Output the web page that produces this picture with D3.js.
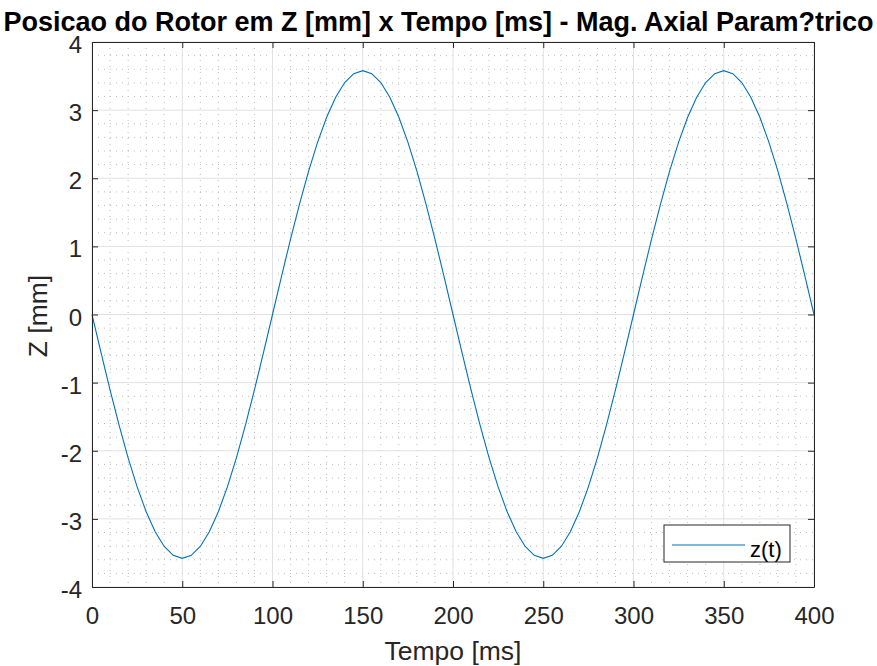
<!DOCTYPE html>
<html>
<head>
<meta charset="utf-8">
<script src="https://cdn.jsdelivr.net/npm/d3@7"></script>
<style>
  html, body { margin: 0; padding: 0; background: #fff; }
  svg { display: block; font-family: "Liberation Sans", Arial, Helvetica, sans-serif; }
</style>
</head>
<body>
<svg id="chart" width="877" height="666"></svg>
<script>
// Rotor axial position sampled every 5 ms
const timeMs = [
  0, 5, 10, 15, 20, 25, 30, 35, 40, 45,
  50, 55, 60, 65, 70, 75, 80, 85, 90, 95,
  100, 105, 110, 115, 120, 125, 130, 135, 140, 145,
  150, 155, 160, 165, 170, 175, 180, 185, 190, 195,
  200, 205, 210, 215, 220, 225, 230, 235, 240, 245,
  250, 255, 260, 265, 270, 275, 280, 285, 290, 295,
  300, 305, 310, 315, 320, 325, 330, 335, 340, 345,
  350, 355, 360, 365, 370, 375, 380, 385, 390, 395,
  400
];
const zMm = [
  0, -0.56, -1.106, -1.625, -2.104, -2.531, -2.896, -3.19, -3.405, -3.536,
  -3.58, -3.536, -3.405, -3.19, -2.896, -2.531, -2.104, -1.625, -1.106, -0.56,
  0, 0.56, 1.106, 1.625, 2.104, 2.531, 2.896, 3.19, 3.405, 3.536,
  3.58, 3.536, 3.405, 3.19, 2.896, 2.531, 2.104, 1.625, 1.106, 0.56,
  0, -0.56, -1.106, -1.625, -2.104, -2.531, -2.896, -3.19, -3.405, -3.536,
  -3.58, -3.536, -3.405, -3.19, -2.896, -2.531, -2.104, -1.625, -1.106, -0.56,
  0, 0.56, 1.106, 1.625, 2.104, 2.531, 2.896, 3.19, 3.405, 3.536,
  3.58, 3.536, 3.405, 3.19, 2.896, 2.531, 2.104, 1.625, 1.106, 0.56,
  0
];
const xTicks = [0, 50, 100, 150, 200, 250, 300, 350, 400];
const yTicks = [-4, -3, -2, -1, 0, 1, 2, 3, 4];
const xMinorTicks = d3.range(0, 401, 10);
const yMinorTicks = d3.range(-40, 41, 2).map(v => v / 10);

const titleText = "Posicao do Rotor em Z [mm] x Tempo [ms] - Mag. Axial Param?trico";
const xLabel = "Tempo [ms]";
const yLabel = "Z [mm]";
const legendLabel = "z(t)";

const plotL = 92, plotR = 814, plotT = 42, plotB = 587;
const svg = d3.select("#chart");

const x = d3.scaleLinear().domain([0, 400]).range([plotL, plotR]);
const y = d3.scaleLinear().domain([-4, 4]).range([plotB, plotT]);

const textColor = "#262626";
const fontFam = "'Liberation Sans', Arial, sans-serif";

// Minor grid (dotted)
const grid = svg.append("g");
grid.selectAll("line.xm").data(xMinorTicks.filter(v => v % 50 !== 0)).join("line")
  .attr("x1", d => x(d)).attr("x2", d => x(d)).attr("y1", plotT).attr("y2", plotB)
  .attr("stroke", "#bdbdbd").attr("stroke-width", 1).attr("stroke-dasharray", "1,5");
grid.selectAll("line.ym").data(yMinorTicks.filter(v => Math.abs(v - Math.round(v)) > 1e-6)).join("line")
  .attr("x1", plotL).attr("x2", plotR).attr("y1", d => y(d)).attr("y2", d => y(d))
  .attr("stroke", "#bdbdbd").attr("stroke-width", 1).attr("stroke-dasharray", "1,5");

// Major grid
grid.selectAll("line.xM").data(xTicks).join("line")
  .attr("x1", d => x(d)).attr("x2", d => x(d)).attr("y1", plotT).attr("y2", plotB)
  .attr("stroke", "#e1e1e1").attr("stroke-width", 1);
grid.selectAll("line.yM").data(yTicks).join("line")
  .attr("x1", plotL).attr("x2", plotR).attr("y1", d => y(d)).attr("y2", d => y(d))
  .attr("stroke", "#e1e1e1").attr("stroke-width", 1);

// Data line
const line = d3.line().x((d, i) => x(timeMs[i])).y(d => y(d));
svg.append("path").datum(zMm)
  .attr("d", line).attr("fill", "none")
  .attr("stroke", "#0072BD").attr("stroke-width", 1.1);

// Axes with inward ticks; labels use a plain hyphen for negatives
const tickLen = 6;
const fmt = d => String(d);
const xAxisB = d3.axisBottom(x).tickValues(xTicks).tickSizeInner(-tickLen).tickSizeOuter(0).tickPadding(20).tickFormat(fmt);
const xAxisT = d3.axisTop(x).tickValues(xTicks).tickSizeInner(-tickLen).tickSizeOuter(0).tickFormat("");
const yAxisL = d3.axisLeft(y).tickValues(yTicks).tickSizeInner(-tickLen).tickSizeOuter(0).tickPadding(10).tickFormat(fmt);
const yAxisR = d3.axisRight(y).tickValues(yTicks).tickSizeInner(-tickLen).tickSizeOuter(0).tickFormat("");

function styleAxis(g) {
  g.attr("font-family", null).attr("font-size", null);
  g.selectAll("path.domain").attr("stroke", textColor).attr("stroke-width", 1);
  g.selectAll(".tick line").attr("stroke", textColor).attr("stroke-width", 1);
  g.selectAll(".tick text").attr("fill", textColor).style("font-size", "24px")
    .style("font-family", fontFam);
}
svg.append("g").attr("transform", `translate(0,${plotB})`).call(xAxisB).call(styleAxis);
svg.append("g").attr("transform", `translate(0,${plotT})`).call(xAxisT).call(styleAxis);
svg.append("g").attr("transform", `translate(${plotL},0)`).call(yAxisL).call(styleAxis)
  .selectAll(".tick text").attr("dy", "0.44em");
svg.append("g").attr("transform", `translate(${plotR},0)`).call(yAxisR).call(styleAxis);

// Title and axis labels
svg.append("text").attr("x", 438.5).attr("y", 31)
  .attr("text-anchor", "middle").attr("fill", "#000")
  .style("font-family", fontFam)
  .style("font-size", "27px").style("font-weight", "bold")
  .text(titleText);
svg.append("text").attr("x", (plotL + plotR) / 2).attr("y", 660)
  .attr("text-anchor", "middle").attr("fill", textColor)
  .style("font-family", fontFam)
  .style("font-size", "26.5px").text(xLabel);
svg.append("text")
  .attr("transform", `translate(47,316) rotate(-90)`)
  .attr("text-anchor", "middle").attr("fill", textColor)
  .style("font-family", fontFam)
  .style("font-size", "26.5px").text(yLabel);

// Legend
const lg = svg.append("g").attr("transform", "translate(664,525)");
lg.append("rect").attr("width", 126).attr("height", 37)
  .attr("fill", "#fff").attr("stroke", textColor).attr("stroke-width", 1);
lg.append("line").attr("x1", 8).attr("x2", 81).attr("y1", 20).attr("y2", 20)
  .attr("stroke", "#0072BD").attr("stroke-width", 1.1);
lg.append("text").attr("x", 86).attr("y", 31.5).attr("fill", "#000")
  .style("font-family", fontFam)
  .style("font-size", "22px").text(legendLabel);
</script>
</body>
</html>
